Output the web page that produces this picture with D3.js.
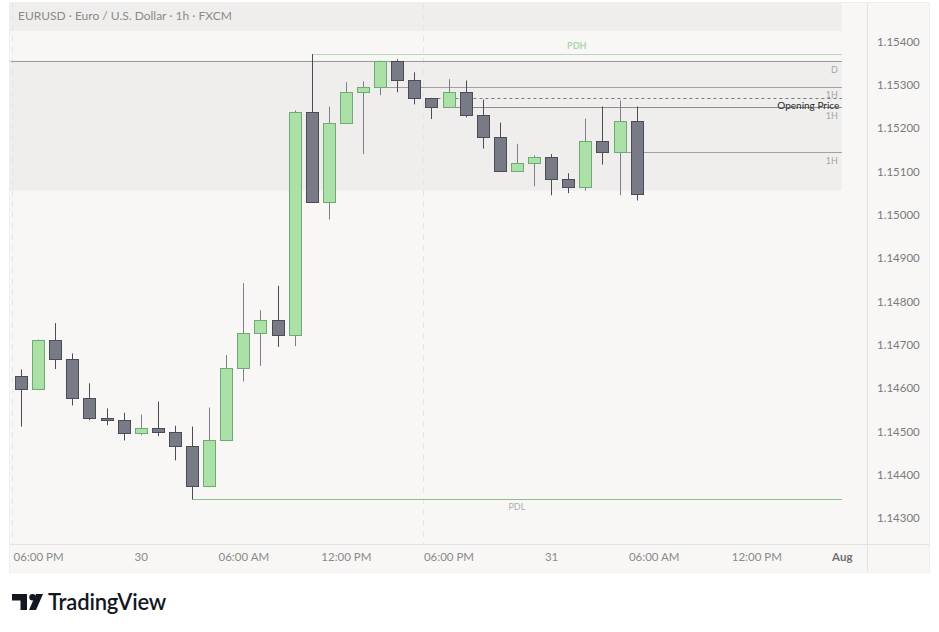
<!DOCTYPE html>
<html>
<head>
<meta charset="utf-8">
<script src="https://cdn.jsdelivr.net/npm/d3@7"></script>
<style>
  html, body { margin: 0; padding: 0; background: #ffffff; }
  svg { display: block; }
  text { font-family: Lato, "Open Sans", sans-serif; }
</style>
</head>
<body>
<svg id="chart" width="939" height="632"></svg>
<script>
// EURUSD 1h candles, first bar = 29 Jul 17:00, one bar per hour
const opens  = [1.14628,1.14598,1.14712,1.14668,1.14577,1.14531,1.14527,1.14496,1.14508,1.14499,
                1.14466,1.14374,1.14480,1.14647,1.14728,1.14758,1.14723,1.15238,1.15029,1.15212,
                1.15284,1.15296,1.15354,1.15311,1.15270,1.15249,1.15284,1.15231,1.15180,1.15101,
                1.15120,1.15134,1.15083,1.15064,1.15171,1.15145,1.15217]
const highs  = [1.14643,1.14712,1.14750,1.14680,1.14611,1.14553,1.14543,1.14539,1.14569,1.14513,
                1.14511,1.14555,1.14676,1.14842,1.14780,1.14836,1.15241,1.15371,1.15250,1.15306,
                1.15308,1.15356,1.15359,1.15329,1.15270,1.15313,1.15310,1.15266,1.15213,1.15164,
                1.15137,1.15140,1.15096,1.15222,1.15250,1.15264,1.15250]
const lows   = [1.14511,1.14598,1.14644,1.14560,1.14526,1.14514,1.14479,1.14491,1.14489,1.14433,
                1.14343,1.14371,1.14480,1.14615,1.14651,1.14695,1.14697,1.15029,1.14989,1.15212,
                1.15140,1.15276,1.15283,1.15255,1.15221,1.15249,1.15225,1.15153,1.15101,1.15101,
                1.15066,1.15045,1.15050,1.15056,1.15116,1.15045,1.15033]
const closes = [1.14598,1.14712,1.14668,1.14577,1.14531,1.14527,1.14496,1.14508,1.14499,1.14466,
                1.14374,1.14480,1.14647,1.14728,1.14758,1.14723,1.15238,1.15029,1.15212,1.15284,
                1.15296,1.15354,1.15311,1.15270,1.15249,1.15284,1.15231,1.15180,1.15101,1.15120,
                1.15134,1.15083,1.15064,1.15171,1.15145,1.15217,1.15048]

// time axis (bar index -> label)
const timeTickIdx    = [1, 7, 13, 19, 25, 31, 37, 43, 48]
const timeTickLabels = ["06:00 PM", "30", "06:00 AM", "12:00 PM", "06:00 PM", "31", "06:00 AM", "12:00 PM", "Aug"]
const priceTicks = [1.143, 1.144, 1.145, 1.146, 1.147, 1.148, 1.149, 1.150, 1.151, 1.152, 1.153, 1.154]
const sessionBreaks = [-0.5, 23.5]

// indicator levels: [price, start bar]
const levelNames  = ["PDH", "PDL", "D", "1H", "1H-dash", "Opening", "1H-b"]
const levelPrices = [1.15371, 1.14343, 1.15356, 1.15296, 1.15270, 1.15249, 1.15145]
const levelStarts = [17, 10, -0.6, 21, 24, 25, 35]
const rangeBox = [1.15356, 1.15056]
const upperBox = [1.15424, 1.15489]
const drawEnd = 48

const svg = d3.select('#chart')

const left = 10, plotRight = 867, axisRight = 929, plotTop = 3, plotBottom = 544, bottomEdge = 572

const x = d3.scaleLinear().domain([0, 36]).range([21, 636.6])
const y = d3.scaleLinear().domain([1.14240, 1.15489]).range([plotBottom, plotTop])

const bars = opens.map((o, i) => ({ i: i, o: o, h: highs[i], l: lows[i], c: closes[i] }))

// container
svg.append('rect')
	.attr('x', left - 0.5).attr('y', plotTop - 0.5)
	.attr('width', axisRight - left + 1).attr('height', bottomEdge - plotTop + 1)
	.attr('fill', '#f8f7f6').attr('stroke', '#f0efee')

const clip = svg.append('clipPath').attr('id', 'plotclip')
clip.append('rect').attr('x', left).attr('y', plotTop).attr('width', plotRight - left).attr('height', plotBottom - plotTop)

const plot = svg.append('g').attr('clip-path', 'url(#plotclip)')

// shaded boxes
plot.append('rect')
	.attr('x', left).attr('width', x(drawEnd) - left)
	.attr('y', y(upperBox[1])).attr('height', y(upperBox[0]) - y(upperBox[1]))
	.attr('fill', '#efeeed')
plot.append('rect')
	.attr('x', left).attr('width', x(drawEnd) - left)
	.attr('y', y(rangeBox[0])).attr('height', y(rangeBox[1]) - y(rangeBox[0]))
	.attr('fill', '#efeeed')

// session breaks
plot.selectAll('line.sess').data(sessionBreaks).enter().append('line')
	.attr('class', 'sess')
	.attr('x1', (d) => Math.round(x(d)) + 0.5).attr('x2', (d) => Math.round(x(d)) + 0.5)
	.attr('y1', plotTop).attr('y2', plotBottom)
	.attr('stroke', '#e6e5e3').attr('stroke-dasharray', '6,5')

// level lines
const levelStyle = {
	"PDH": { stroke: '#b5dab6', dash: null },
	"PDL": { stroke: '#86c48c', dash: null },
	"D": { stroke: '#9a9a9a', dash: null },
	"1H": { stroke: '#a0a0a0', dash: null },
	"1H-dash": { stroke: '#777777', dash: '3,3' },
	"Opening": { stroke: '#8e8e8e', dash: null },
	"1H-b": { stroke: '#a0a0a0', dash: null }
}
levelNames.forEach((name, k) => {
	let yy = Math.round(y(levelPrices[k])) + 0.5
	plot.append('line')
		.attr('x1', Math.max(left, x(levelStarts[k]))).attr('x2', x(drawEnd))
		.attr('y1', yy).attr('y2', yy)
		.attr('stroke', levelStyle[name].stroke)
		.attr('stroke-dasharray', levelStyle[name].dash)
})

// candles
const cw = 12
const g = plot.selectAll('g.bar').data(bars).enter().append('g').attr('class', 'bar')
g.append('line')
	.attr('x1', (d) => Math.round(x(d.i)) + 0.5).attr('x2', (d) => Math.round(x(d.i)) + 0.5)
	.attr('y1', (d) => y(d.h)).attr('y2', (d) => y(d.l))
	.attr('stroke', (d) => d.c >= d.o ? '#7d808a' : '#4a4c56')
g.append('rect')
	.attr('x', (d) => Math.round(x(d.i)) - cw / 2 + 0.5)
	.attr('width', cw)
	.attr('y', (d) => Math.round(y(Math.max(d.o, d.c))) + 0.5)
	.attr('height', (d) => Math.max(1, Math.round(y(Math.min(d.o, d.c))) - Math.round(y(Math.max(d.o, d.c)))))
	.attr('fill', (d) => d.c >= d.o ? '#abe1a7' : '#787b86')
	.attr('stroke', (d) => d.c >= d.o ? '#6eaa77' : '#4a4c56')

// level labels
const labelRight = x(drawEnd) - 4
const lab = plot.append('g').attr('font-size', 9).attr('font-weight', 700)
lab.append('text').attr('x', (x(levelStarts[0]) + x(drawEnd)) / 2).attr('y', y(levelPrices[0]) - 5)
	.attr('text-anchor', 'middle').attr('fill', '#aad5ac').text('PDH')
lab.append('text').attr('x', (x(levelStarts[1]) + x(drawEnd)) / 2).attr('y', y(levelPrices[1]) + 11)
	.attr('text-anchor', 'middle').attr('fill', '#b0b0b0').attr('font-weight', 400).text('PDL')
lab.append('text').attr('x', labelRight).attr('y', y(levelPrices[2]) + 12)
	.attr('text-anchor', 'end').attr('fill', '#a6a6a6').attr('font-weight', 400).text('D')
lab.append('text').attr('x', labelRight).attr('y', y(levelPrices[3]) + 11.5)
	.attr('text-anchor', 'end').attr('fill', '#a6a6a6').attr('font-weight', 400).text('1H')
lab.append('text').attr('x', labelRight + 1.5).attr('y', y(levelPrices[5]) + 2.5)
	.attr('text-anchor', 'end').attr('fill', '#2a2a2a').attr('font-size', 10).attr('font-weight', 400).text('Opening Price')
lab.append('text').attr('x', labelRight).attr('y', y(levelPrices[5]) + 12.5)
	.attr('text-anchor', 'end').attr('fill', '#a6a6a6').attr('font-weight', 400).text('1H')
lab.append('text').attr('x', labelRight).attr('y', y(levelPrices[6]) + 11.5)
	.attr('text-anchor', 'end').attr('fill', '#a6a6a6').attr('font-weight', 400).text('1H')

// title
svg.append('text').attr('x', 18).attr('y', 20)
	.attr('font-size', 12).attr('fill', '#8a8a8a')
	.text('EURUSD · Euro / U.S. Dollar · 1h · FXCM')

// axis borders
svg.append('line').attr('x1', left).attr('x2', axisRight).attr('y1', plotBottom + 0.5).attr('y2', plotBottom + 0.5)
	.attr('stroke', '#e3e2e0')
svg.append('line').attr('x1', plotRight + 0.5).attr('x2', plotRight + 0.5).attr('y1', plotTop).attr('y2', bottomEdge)
	.attr('stroke', '#e3e2e0')

// price axis
const yAxis = d3.axisRight(y).tickValues(priceTicks).tickFormat(d3.format('.5f')).tickSize(0).tickPadding(10)
const ya = svg.append('g').attr('transform', `translate(${plotRight},0)`).call(yAxis)
ya.select('.domain').remove()
ya.selectAll('text').attr('font-size', 11.5).attr('fill', '#7a7a7a').attr('font-family', 'Lato, sans-serif')

// time axis
const xAxis = d3.axisBottom(x).tickValues(timeTickIdx)
	.tickFormat((d, k) => timeTickLabels[k]).tickSize(0).tickPadding(9)
const xa = svg.append('g').attr('transform', `translate(0,${plotBottom})`).call(xAxis)
xa.select('.domain').remove()
xa.selectAll('text').attr('font-size', 11.5).attr('font-family', 'Lato, sans-serif')
	.attr('font-weight', (d, k) => timeTickLabels[k] === 'Aug' ? 700 : 400)
	.attr('fill', (d, k) => timeTickLabels[k] === 'Aug' ? '#707070' : '#8a8a8a')

// TradingView logo
const logo = svg.append('g').attr('transform', 'translate(12,594)').attr('fill', '#131722')
logo.append('path').attr('d', 'M0,0 H15 V16 H8.5 V6.5 H0 Z')
logo.append('circle').attr('cx', 20.5).attr('cy', 3.2).attr('r', 3.2)
logo.append('path').attr('d', 'M24,0 H31 L24,16 H17 Z')
svg.append('text').attr('x', 48).attr('y', 609.5)
	.attr('font-family', 'Inter, Roboto, sans-serif').attr('font-size', 22).attr('font-weight', 600)
	.attr('letter-spacing', -0.2)
	.attr('fill', '#131722').text('TradingView')
</script>
</body>
</html>
